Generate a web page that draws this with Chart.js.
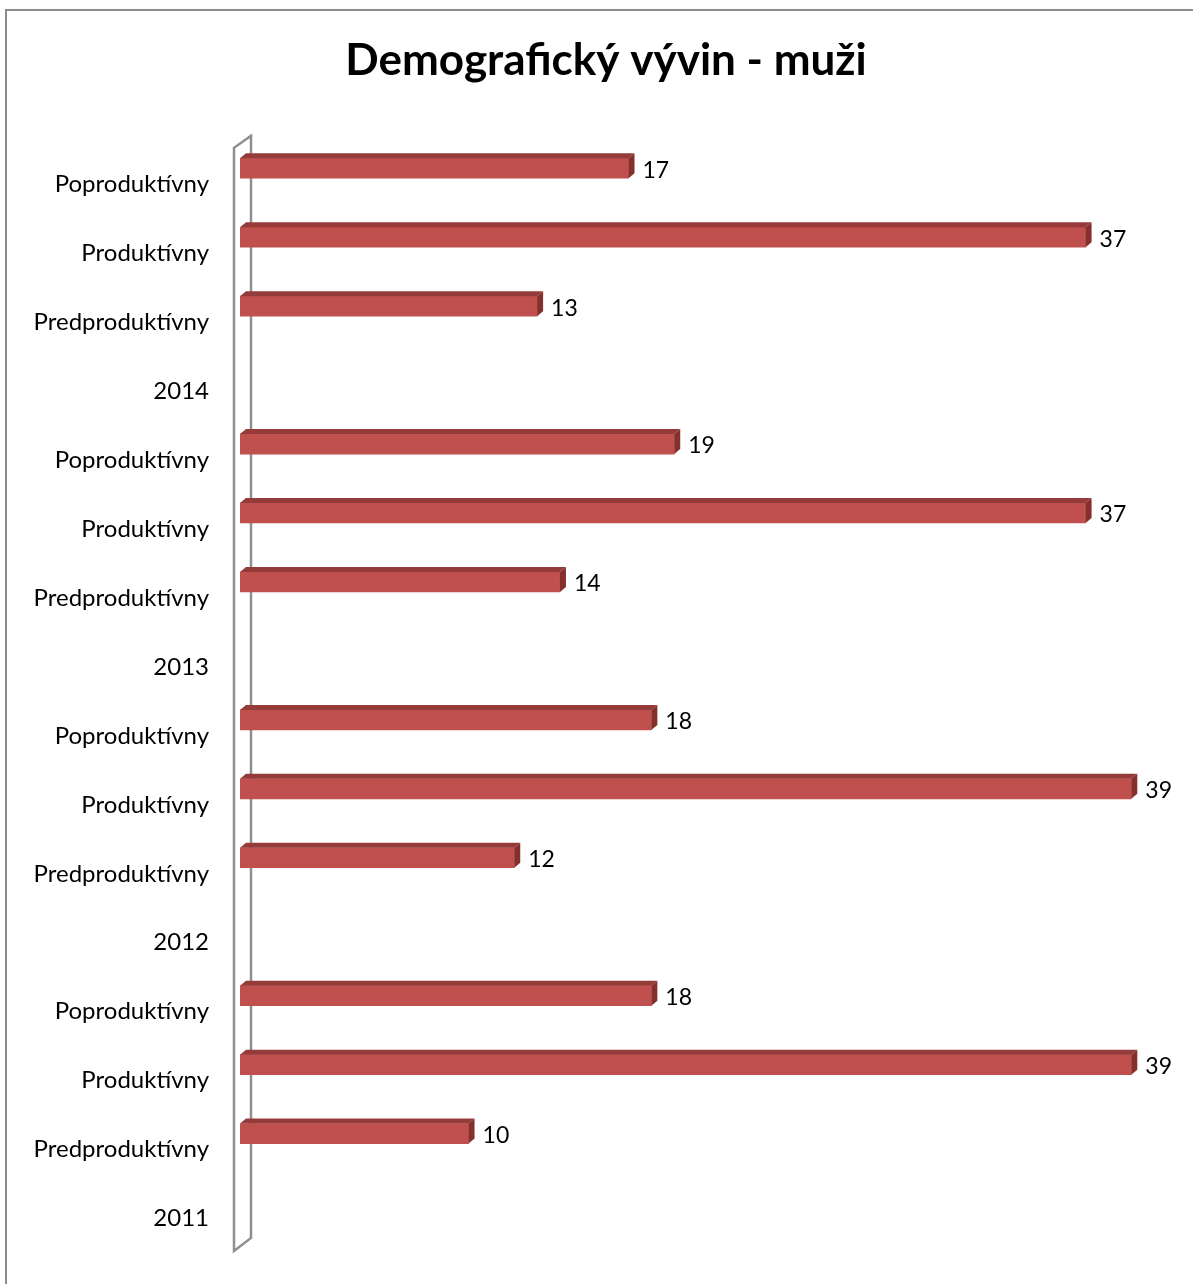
<!DOCTYPE html>
<html>
<head>
<meta charset="utf-8">
<script src="https://cdn.jsdelivr.net/npm/chart.js@4"></script>
<style>
  html, body { margin: 0; padding: 0; background: #fff; }
  #wrap { position: relative; width: 1193px; height: 1284px; overflow: hidden; }
  #frame { position: absolute; left: 5px; top: 9px; width: 1300px; height: 1400px; border: 2px solid #8c8c8c; box-sizing: border-box; }
  #chart { position: absolute; left: 0; top: 0; }
</style>
</head>
<body>
<div id="wrap">
  <div id="frame"></div>
  <canvas id="chart" width="1193" height="1284"></canvas>
</div>
<script>
// ---- data (top to bottom, as in the picture) ----
const categories = [
  "Poproduktívny", "Produktívny", "Predproduktívny", "2014",
  "Poproduktívny", "Produktívny", "Predproduktívny", "2013",
  "Poproduktívny", "Produktívny", "Predproduktívny", "2012",
  "Poproduktívny", "Produktívny", "Predproduktívny", "2011"
];
const values_muzi = [
  17, 37, 13, null,
  19, 37, 14, null,
  18, 39, 12, null,
  18, 39, 10, null
];
const chart_title = "Demografický vývin - muži";

const FONT = "Lato, 'Open Sans', sans-serif";
const DX = 6, DY = 5; // hloubka 3D

// sivá stena za osou
const wallPlugin = {
  id: "wall",
  beforeDatasetsDraw(chart) {
    const ctx = chart.ctx;
    const area = chart.chartArea;
    const zero = chart.scales.x.getPixelForValue(0);
    ctx.save();
    ctx.strokeStyle = "#8f8f8f";
    ctx.lineWidth = 2.5;
    ctx.beginPath();
    ctx.moveTo(zero + 11, area.top + 2);
    ctx.lineTo(zero - 6, area.top + 14);
    ctx.lineTo(zero - 6, area.bottom + 14);
    ctx.lineTo(zero + 11, area.bottom + 1);
    ctx.closePath();
    ctx.stroke();
    ctx.restore();
  }
};

// horna a bocna strana stlpca + popisky hodnot
const bar3dPlugin = {
  id: "bar3d",
  afterDatasetsDraw(chart) {
    const ctx = chart.ctx;
    const meta = chart.getDatasetMeta(0);
    ctx.save();
    meta.data.forEach((bar, i) => {
      const v = values_muzi[i];
      if (v === null) return;
      const p = bar.getProps(["x", "y", "base", "height"], true);
      const top = p.y - p.height / 2;
      const bottom = p.y + p.height / 2;
      const x0 = p.base, x1 = p.x;
      // top
      ctx.fillStyle = "#953b39";
      ctx.beginPath();
      ctx.moveTo(x0, top);
      ctx.lineTo(x0 + DX, top - DY);
      ctx.lineTo(x1 + DX, top - DY);
      ctx.lineTo(x1, top);
      ctx.closePath();
      ctx.fill();
      // side
      ctx.fillStyle = "#86302e";
      ctx.beginPath();
      ctx.moveTo(x1, top);
      ctx.lineTo(x1 + DX, top - DY);
      ctx.lineTo(x1 + DX, bottom - DY);
      ctx.lineTo(x1, bottom);
      ctx.closePath();
      ctx.fill();
      // value
      ctx.fillStyle = "#000";
      ctx.font = "23px " + FONT;
      ctx.textAlign = "left";
      ctx.textBaseline = "middle";
      ctx.fillText(String(v), x1 + DX + 8, p.y + 2);
    });
    ctx.restore();
  }
};

const config_muzi = {
  type: "bar",
  data: {
    labels: categories,
    datasets: [{
      label: "muži",
      data: values_muzi,
      backgroundColor: "#c0504d",
      borderWidth: 0,
      barThickness: 20
    }]
  },
  options: {
    indexAxis: "y",
    responsive: false,
    animation: false,
    layout: { padding: { left: 19, right: 0, top: 0, bottom: 47 } },
    plugins: {
      legend: { display: false },
      tooltip: { enabled: false },
      title: {
        display: true,
        text: chart_title,
        color: "#000",
        font: { family: FONT, size: 44, weight: "bold", lineHeight: 1.2 },
        padding: { top: 34, bottom: 47 }
      }
    },
    scales: {
      x: {
        display: false,
        min: 0,
        max: 41.7
      },
      y: {
        grid: { display: false, drawTicks: false },
        border: { display: false },
        afterFit: (s) => { s.width = 221; },
        ticks: {
          color: "#000",
          padding: 31,
          labelOffset: 16,
          font: { family: FONT, size: 24 }
        }
      }
    }
  },
  plugins: [wallPlugin, bar3dPlugin]
};

const muzi_chart = new Chart(document.getElementById("chart"), config_muzi);
</script>
</body>
</html>
